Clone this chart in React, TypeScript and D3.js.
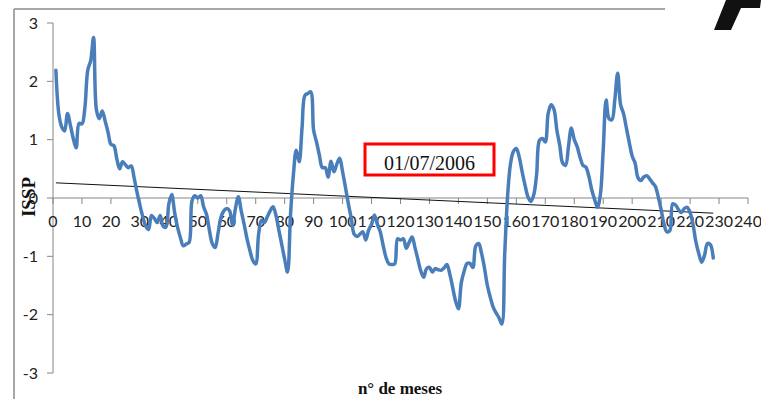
import React from "react";
import * as d3 from "d3";

// Monthly ISSP values (months 1..228)
const months: number[] = Array.from({ length: 228 }, (_, i) => i + 1);
const issp: number[] = [
  2.19, 1.45, 1.22, 1.15, 1.45, 1.25, 1.02, 0.86, 1.28, 1.27,
  1.54, 2.19, 2.35, 2.75, 1.51, 1.36, 1.49, 1.32, 1.13, 0.92,
  0.90, 0.68, 0.50, 0.62, 0.57, 0.52, 0.55, 0.35, 0.10, -0.12,
  -0.32, -0.48, -0.54, -0.30, -0.35, -0.42, -0.30, -0.48, -0.50, -0.10,
  0.06, -0.25, -0.50, -0.68, -0.82, -0.79, -0.76, -0.05, 0.04, 0.0,
  0.04, -0.15, -0.28, -0.55, -0.78, -0.85, -0.60, -0.33, -0.22, -0.18,
  -0.22, -0.47, -0.18, 0.02, -0.22, -0.45, -0.70, -0.90, -1.07, -1.13,
  -0.62, -0.38, -0.42, -0.32, -0.22, -0.15, -0.30, -0.55, -0.80, -1.05,
  -1.27, -0.30, 0.39, 0.82, 0.62, 1.20, 1.76, 1.79, 1.82, 1.16,
  0.96, 0.73, 0.52, 0.52, 0.36, 0.63, 0.45, 0.58, 0.68, 0.45,
  0.18, -0.10, -0.35, -0.62, -0.66, -0.62, -0.58, -0.72, -0.55, -0.45,
  -0.29, -0.45, -0.58, -0.81, -1.02, -1.13, -1.14, -1.13, -0.70, -0.72,
  -0.70, -0.86, -0.76, -0.67, -0.85, -1.05, -1.25, -1.36, -1.21, -1.19,
  -1.27, -1.21, -1.23, -1.24, -1.20, -1.14, -1.30, -1.53, -1.76, -1.90,
  -1.45, -1.25, -1.12, -1.12, -1.19, -0.82, -0.78, -0.95, -1.20, -1.50,
  -1.70, -1.87, -1.97, -2.05, -2.16, -0.95, 0.05, 0.59, 0.80, 0.85,
  0.70, 0.45, 0.22, 0.02, -0.06, 0.05, 0.40, 0.99, 1.02, 0.96,
  1.45, 1.60, 1.52, 1.16, 0.90, 0.60, 0.56, 0.88, 1.20, 1.00,
  0.88, 0.70, 0.56, 0.53, 0.38, 0.15, -0.02, -0.16, 0.05, 0.82,
  1.68, 1.36, 1.34, 1.68, 2.14, 1.60, 1.45, 1.20, 0.95, 0.72,
  0.60, 0.35, 0.30, 0.36, 0.38, 0.33, 0.26, 0.20, 0.02, -0.20,
  -0.45, -0.58, -0.56, -0.10, -0.12, -0.20, -0.25, -0.18, -0.16, -0.25,
  -0.45, -0.75, -0.95, -1.10, -0.98, -0.78, -0.80, -1.03,
];

// Linear trend line endpoints
const trendMonths: number[] = [1, 228];
const trendValues: number[] = [0.26, -0.26];

const xTicks: number[] = d3.range(0, 241, 10);
const yTicks: number[] = [-3, -2, -1, 0, 1, 2, 3];

const annotation = "01/07/2006";
const yTitle = "ISSP";
const xTitle = "n° de meses";

export default function App() {
  const x = d3.scaleLinear().domain([0, 240]).range([53, 748]);
  const y = d3.scaleLinear().domain([-3, 3]).range([373, 23]);

  const line = d3
    .line<number>()
    .x((_, i) => x(months[i]))
    .y((d) => y(d))
    .curve(d3.curveCatmullRom.alpha(0.5));

  const trend = d3
    .line<number>()
    .x((_, i) => x(trendMonths[i]))
    .y((d) => y(d));

  const axisColor = "#868686";
  const tickFont = "Lato, 'Open Sans', sans-serif";

  return (
    <svg
      width={761}
      height={399}
      style={{ position: "absolute", left: 0, top: 0, background: "#fff" }}
    >
      {/* frame fragments */}
      <line x1={14} y1={9} x2={14} y2={399} stroke="#8a8a8a" strokeWidth={1.5} />
      <line x1={14} y1={9} x2={665} y2={9} stroke="#8a8a8a" strokeWidth={1.5} />
      {/* logo fragment */}
      <path d="M714,30 L731,30 L741,8 L760,8 L761,0 L726,0 Z" fill="#111" />

      {/* y axis */}
      <line x1={x(0)} y1={y(3)} x2={x(0)} y2={y(-3)} stroke={axisColor} strokeWidth={1} />
      {yTicks.map((t) => (
        <g key={"y" + t}>
          <line x1={x(0) - 6} x2={x(0)} y1={y(t)} y2={y(t)} stroke={axisColor} />
          <text
            x={38}
            y={y(t)}
            dy="0.36em"
            textAnchor="end"
            fontFamily={tickFont}
            fontSize={16}
            fill="#222"
          >
            {t}
          </text>
        </g>
      ))}

      {/* x axis at zero */}
      <line x1={x(0)} y1={y(0)} x2={x(240)} y2={y(0)} stroke={axisColor} strokeWidth={1} />
      {xTicks.map((t) => (
        <g key={"x" + t}>
          <line x1={x(t)} x2={x(t)} y1={y(0)} y2={y(0) + 6} stroke={axisColor} />
          <text
            x={x(t)}
            y={227}
            textAnchor="middle"
            fontFamily={tickFont}
            fontSize={16}
            fill="#222"
          >
            {t}
          </text>
        </g>
      ))}

      {/* trend line */}
      <path d={trend(trendValues) || ""} fill="none" stroke="#111" strokeWidth={1} />

      {/* series */}
      <path
        d={line(issp) || ""}
        fill="none"
        stroke="#4a7ebb"
        strokeWidth={3.5}
        strokeLinejoin="round"
        strokeLinecap="round"
      />

      {/* annotation box */}
      <rect x={365} y={144} width={129} height={31} fill="#fff" stroke="#ff0000" strokeWidth={3} />
      <text
        x={429.5}
        y={170}
        textAnchor="middle"
        fontFamily="'Liberation Serif', 'Times New Roman', serif"
        fontSize={20}
        fill="#111"
      >
        {annotation}
      </text>

      {/* axis titles */}
      <text
        transform={`translate(35,197) rotate(-90)`}
        textAnchor="middle"
        fontFamily="'Liberation Serif', 'Times New Roman', serif"
        fontWeight="bold"
        fontSize={19}
        fill="#111"
      >
        {yTitle}
      </text>
      <text
        x={400}
        y={394}
        textAnchor="middle"
        fontFamily="'Liberation Serif', 'Times New Roman', serif"
        fontWeight="bold"
        fontSize={17}
        fill="#111"
      >
        {xTitle}
      </text>
    </svg>
  );
}
